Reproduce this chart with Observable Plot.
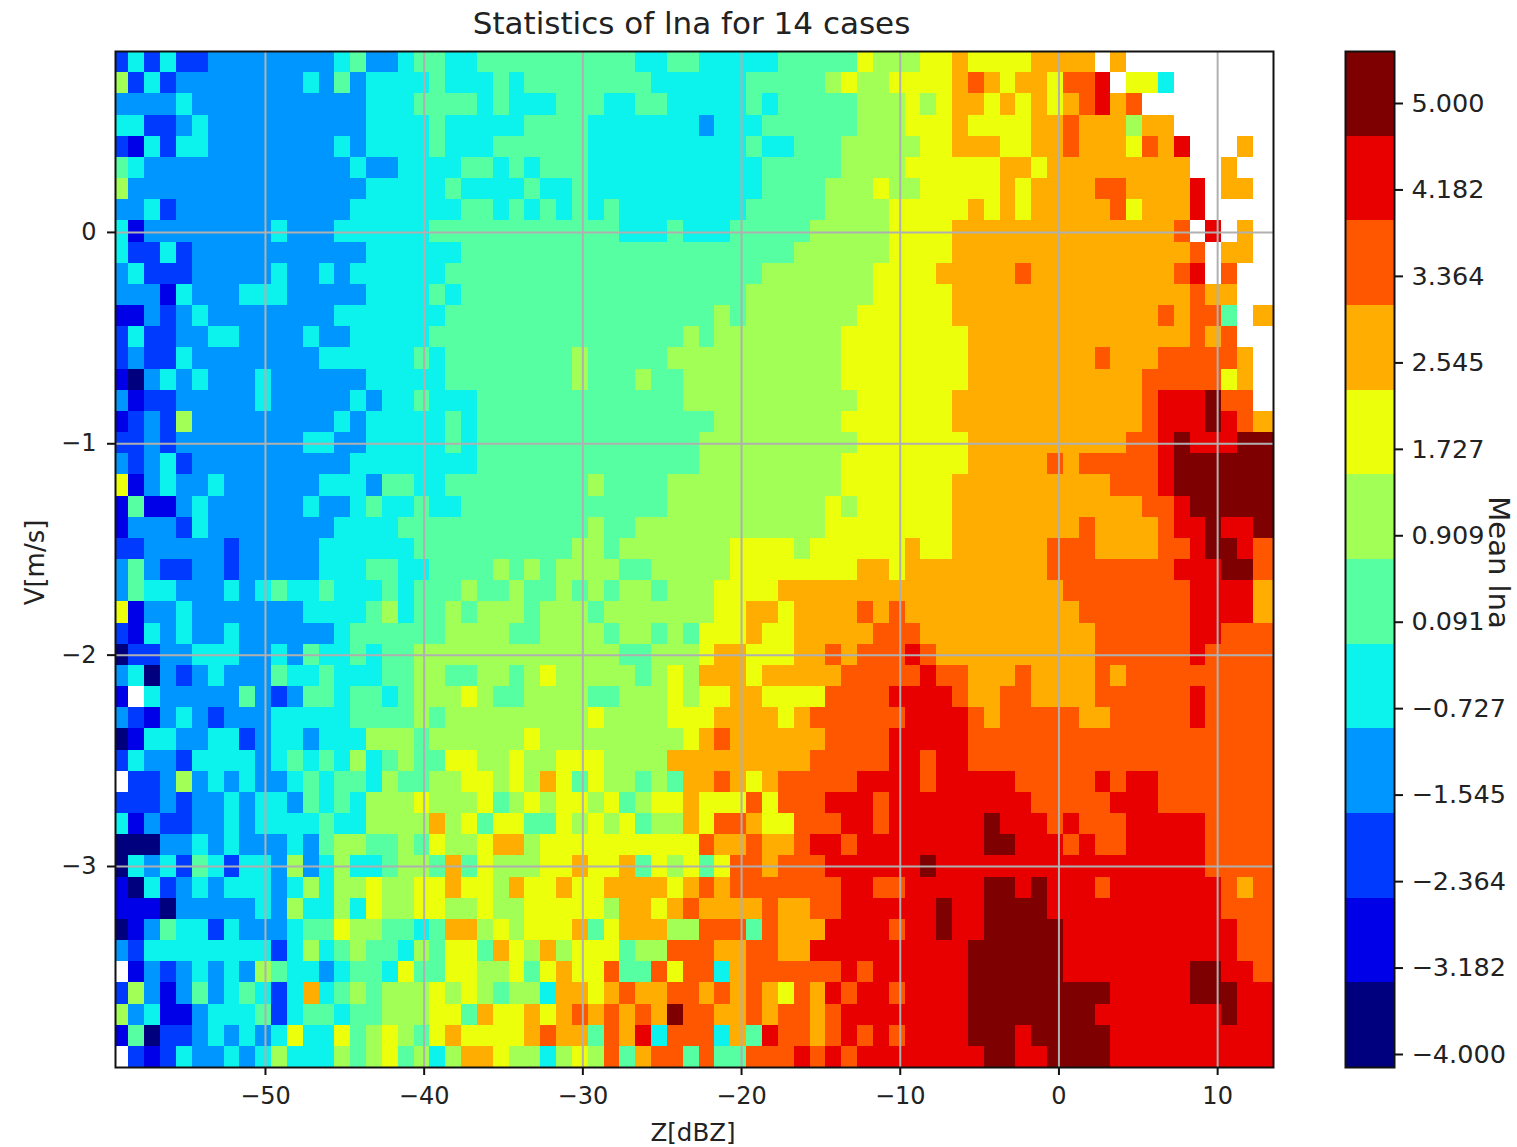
<!DOCTYPE html>
<html>
<head>
<meta charset="utf-8">
<script src="https://cdn.jsdelivr.net/npm/d3@7"></script>
<script src="https://cdn.jsdelivr.net/npm/@observablehq/plot@0.6"></script>
<style>
html,body{margin:0;padding:0;background:#fff}
#wrap{position:relative;width:1517px;height:1147px;overflow:hidden}
#wrap svg{position:absolute;top:0;background:transparent}
</style>
</head>
<body>
<div id="wrap"></div>
<script>
const titleText = "Statistics of lna for 14 cases";
const xLabel = "Z[dBZ]";
const yLabel = "V[m/s]";
const barLabel = "Mean lna";
const xTicks = [-50,-40,-30,-20,-10,0,10];
const yTicks = [0,-1,-2,-3];
const levelValues = [-4,-3.182,-2.364,-1.545,-0.727,0.091,0.909,1.727,2.545,3.364,4.182,5];
const palette = ["#00007f","#0000e8","#003aff","#0096ff","#0bf3ec","#56ffa1","#a1ff56","#ecff0b","#ffad00","#ff5700","#e80000","#7f0000"];
const levelCodes = "0123456789ab";

// Level code per cell, top row first; "." = no data
const colsA = [ // columns 0-17
"242422333333334533","624233333333435344","333343333333333344","442234333333333344",
"214244333333334344","543333333333333433","633333333333333344","334233333333333444",
"413333333343334444","422423333333333344","342223333343343444","333143334443333344",
"113234333333334444","242233443333433444","232243333333344444","103434333433333344",
"312233333433333434","123263333333334344","223233333333443344","323423333333333444",
"713433433333344435","151134333333433454","133324333333334444","223333323333344444",
"353223323333344455","354433343454454445","713343333333444456","214343343333334555",
"022334443343544545","340323433354454445","1.4333335323554554","321343233344444555",
"014433442344344466","243324444345454645",".22363434334545546","222323343443545466",
"413223343444454466","000334343334356655","043425424436346445","104234344434646676",
"111033333436446476","013544243334557665","324444444424645655",".13234343654434554",
"263135345424845656","634113444524554556","150223434347447567",".21243343464446567"];
const colsB = [ // columns 18-36
"4554455555555554455","4454445455555555444","4555545444555445544","4454444455554444444",
"4454445555554444444","4444554545554444444","4445444454454444444","4444554545454544444",
"4455555555555544454","4444555555555555555","4445555555555555555","4454555555555555555",
"4445555555555555555","4455555555555555556","4545555555565555566","4445555555565556556",
"4544455555555555556","4445455555555555555","4445455555555555555","4444455555555555555",
"5445555555556555566","4544555555555555566","5555555555556556666","4555555555566566666",
"4455556565666655666","4555655655656566566","4556566656665666666","5556666556666566565",
"5666666666666655666","5665566567666665676","5666765566665566676","5656666666667666677",
"6566666676666666667","6557766766777666688","5566776768757665658","6766675676776756778",
"6686757755767675668","6576678867777777777","6658576667787785767","6778776877877888878",
"6776676677777688789","5458867677785788866","4657758768677756699","7557766757877955979",
"6676765664887898899","66775877878989898b9","657877778988598a499","5646887664676958995"];
const colsC = [ // columns 37-54
"444445555576667787","444555556766777789","444545555566676788","344455555566677787",
"444544555666667788","444455555666677777","444455556667667777","444555556666777778",
"445555566666777788","555555666666777788","555566666667777888","555666666667777788",
"565666666677777788","566666666777777778","666666666777777778","666666666777777778",
"666666666677777788","566666666777777788","666666666677777778","666666666777777778",
"666666666777777788","666666667677777788","666666667777777788","667777677777787788",
"667777777788788888","677778888888888888","677887888898988888","777877888889998888",
"7887778898999a9888","88878888899999a998","778877779999aaaa98","7888878999999aaaa9",
"898888889999aaaaa9","888888899999aa9aa9","8987899999aaaa9aaa","77797999aaa9aaaaaa",
"799877999aa9aaaaaa","9889889aa9aaaaaaaa","57998999aaaaaabaaa","989999999aa99aaaaa",
"888898899aaaaaabaa","99959888aaaa9aabaa","9889988aaaaaaaaaab","948999999a9aaaaaab",
"89898798a9aa9aaaab","988989989aaaaaaaab","9485a9989a9a9aaaab","955999a9a9aaaaaaaa"];
const colsD = [ // columns 55-72
"7778888.8.........","8788799a.774......","7878789a89........","777889888688......",
"877889888798a...8.","7887888888888..8..","7878888998888a.88.","7878888897888a....",
"8888888888889.a.8.","88888888888889.88.","8898888888889a.9..","8888888888888988..",
"8888888888898995.8","8888888888888989..","88888889888999998.","88888888889999978.",
"88888888889aaab99.","88888888889aaaba98","88888888899abaaabb","88889899999abbbbbb",
"88888888999abbbbbb","888888888899abbbbb","888888988889aabaab","8888999888899abba9",
"888899999999aaabb9","8888899999999aaaa8","8888889999999aaaa8","8888888999999aa999",
"8888888999999a9999","889888898999999999","8998888999999a9999","8999998899999a9999",
"999999999999999999","999999999999999999","aa99999a9aa9999999","aaa99999aaa9999999",
"baaa9a999aaaaa9999","bbaaa9a99aaaaa9999","aaaaaaaaaaaaaa9999","bbabaaa9aaaaaaa989",
"bbbbaaaaaaaaaaa999","bbbbbaaaaaaaaaaa99","bbbbbaaaaaaaaaaa99","bbbbbaaaaaaaabbaa9",
"bbbbbbbbaaaaabbbaa","bbbbbbbaaaaaaaabaa","bbabbbbbaaaaaaaaaa","bbaabbbbaaaaaaaaaa"];

// Bin layout of the heat map (dBZ and m/s)
const zLeft = -59.45, zRight = 13.52, zFirstEdge = -58.6, zStep = 0.998;
const vTop = 0.856, vBottom = -3.951;
const nCols = 73, nRows = 48, vStep = (vTop - vBottom) / nRows;

const cells = [];
[[colsA,0],[colsB,18],[colsC,37],[colsD,55]].forEach(([block,offset]) => {
  block.forEach((row,r) => {
    [...row].forEach((ch,k) => {
      const lvl = levelCodes.indexOf(ch);
      if (lvl < 0) return;
      const c = offset + k;
      cells.push({
        x1: c === 0 ? zLeft : zFirstEdge + (c-1)*zStep,
        x2: c === nCols-1 ? zRight : zFirstEdge + c*zStep,
        y1: vTop - r*vStep,
        y2: vTop - (r+1)*vStep,
        value: levelValues[lvl]
      });
    });
  });
});

const font = {fontFamily:"'DejaVu Sans', sans-serif", fontSize:"24px", background:"transparent"};
const colorScale = {type:"ordinal", domain:levelValues, range:palette};
const gridColor = "#b0b0b0";
const minus = s => s.replace("-","\u2212");

const main = Plot.plot({
  width:1330, height:1147,
  marginLeft:115, marginRight:57, marginTop:51, marginBottom:80,
  style:font,
  x:{domain:[zLeft,zRight]},
  y:{domain:[vBottom,vTop]},
  color:colorScale,
  marks:[
    Plot.rect(cells,{x1:"x1",x2:"x2",y1:"y1",y2:"y2",fill:"value",shapeRendering:"crispEdges"}),
    Plot.ruleX(xTicks,{stroke:gridColor,strokeWidth:2}),
    Plot.ruleY(yTicks,{stroke:gridColor,strokeWidth:2}),
    Plot.frame({stroke:"#111",strokeWidth:2}),
    Plot.axisX({ticks:xTicks,tickSize:8,tickPadding:11,stroke:"#111",strokeWidth:2,fill:"#222",label:null,tickFormat:d=>minus(String(d))}),
    Plot.axisY({ticks:yTicks,tickSize:8,tickPadding:11,stroke:"#111",strokeWidth:2,fill:"#222",label:null,tickFormat:d=>minus(String(d))}),
    Plot.text([xLabel],{frameAnchor:"bottom",dy:66,dx:-1.5,fontSize:24.5,fill:"#222",lineAnchor:"middle",textAnchor:"middle"}),
    Plot.text([yLabel],{frameAnchor:"left",dx:-80,dy:3,rotate:-90,fontSize:26,fill:"#222",lineAnchor:"middle",textAnchor:"middle"}),
    Plot.text([titleText],{frameAnchor:"top",dy:-27,dx:-3,fontSize:31,fill:"#222",lineAnchor:"middle",textAnchor:"middle"})
  ]
});
main.style.left = "0px";

// Colour bar
const barMin = -4 - 13/(951/9), barMax = 5 + 52/(951/9);
const barStep = (barMax - barMin)/levelValues.length;
const barCells = levelValues.map((v,i)=>({value:v,y1:barMin+i*barStep,y2:barMin+(i+1)*barStep}));
const bar = Plot.plot({
  width:187, height:1147,
  marginLeft:15, marginRight:123, marginTop:51, marginBottom:80,
  style:{...font,fontSize:"25.5px"},
  x:{domain:[0,1],axis:null},
  y:{domain:[barMin,barMax]},
  color:colorScale,
  marks:[
    Plot.rect(barCells,{x1:()=>0,x2:()=>1,y1:"y1",y2:"y2",fill:"value",shapeRendering:"crispEdges"}),
    Plot.frame({stroke:"#111",strokeWidth:2}),
    Plot.axisY({anchor:"right",ticks:levelValues,tickSize:8,tickPadding:9,stroke:"#111",strokeWidth:2,fill:"#222",label:null,
      tickFormat:d=>minus(d3.format(".3f")(d))}),
    Plot.text([barLabel],{frameAnchor:"right",dx:104,dy:3,rotate:90,fontSize:29,fill:"#222",lineAnchor:"middle",textAnchor:"middle"})
  ]
});
bar.style.left = "1330px";
const wrap = document.getElementById("wrap");
wrap.append(main,bar);
</script>
</body>
</html>
